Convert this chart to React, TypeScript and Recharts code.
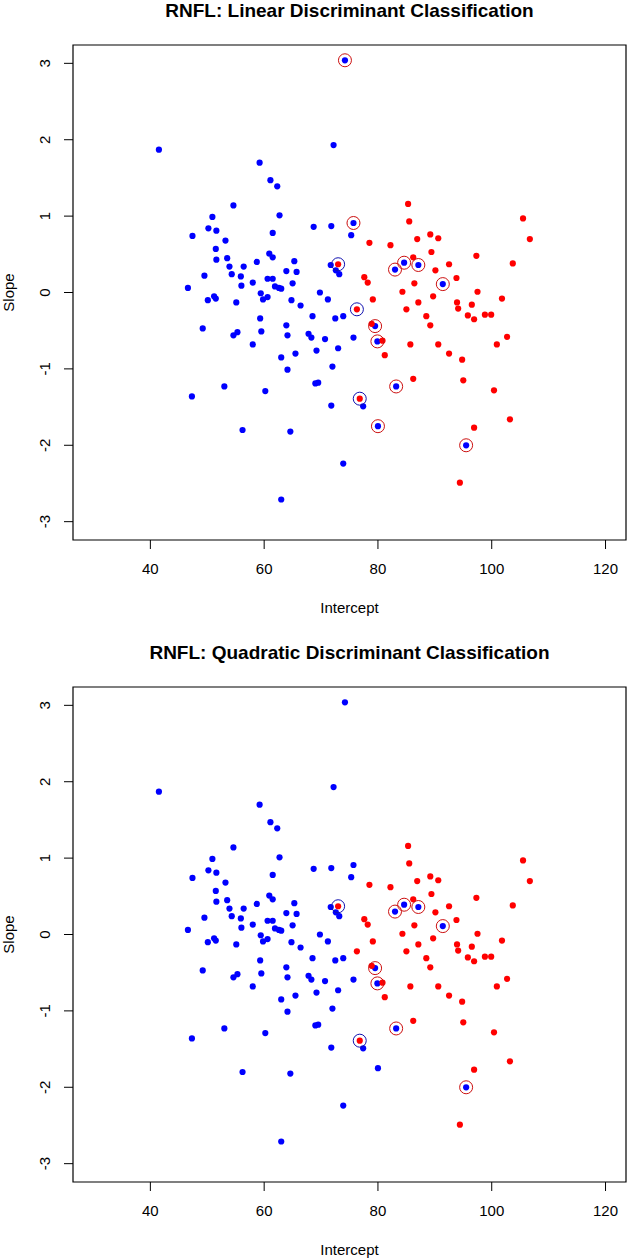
import React from "react";
import { ScatterChart, Scatter, XAxis, YAxis, ReferenceArea } from "recharts";

// true group: blue points
const BLUE_INTERCEPT = [
  41.5, 54.6, 50.9, 50.2, 51.6, 47.4, 53.2, 51.5, 51.6, 53.5, 53.9, 56.4, 54.3, 55.9, 49.5, 56.0,
  46.6, 50.1, 51.2, 51.5, 55.1, 49.2, 54.6, 55.3, 53.0, 47.3, 56.2, 72.2, 59.2, 61.1, 62.3, 62.7,
  68.7, 71.8, 75.7, 75.3, 61.5, 60.9, 61.5, 58.7, 65.3, 63.9, 65.7, 58.0, 60.6, 61.5, 61.9, 62.6,
  63.0, 65.0, 59.4, 59.8, 60.6, 64.8, 66.4, 69.8, 71.2, 68.5, 59.3, 72.5, 73.9, 71.7, 72.6, 73.2,
  59.5, 63.9, 64.1, 67.8, 68.3, 70.7, 75.7, 73.0, 69.2, 65.5, 63.0, 58.0, 64.1, 72.0, 69.0, 69.5,
  60.2, 77.4, 71.8, 80.0, 64.6, 73.9, 63.0, 74.2, 79.5, 79.9, 84.6, 87.1, 83.0, 91.4, 83.2, 95.5,
];
const BLUE_SLOPE = [
  1.87, 1.14, 0.99, 0.84, 0.81, 0.74, 0.68, 0.57, 0.43, 0.45, 0.34, 0.34, 0.24, 0.21, 0.22, 0.09,
  0.06, -0.1, -0.05, -0.08, -0.13, -0.47, -0.56, -0.52, -1.23, -1.36, -1.8, 1.93, 1.7, 1.47, 1.39, 1.01,
  0.86, 0.87, 0.91, 0.75, 0.78, 0.51, 0.46, 0.4, 0.41, 0.28, 0.27, 0.13, 0.18, 0.18, 0.08, 0.06,
  0.05, 0.12, -0.01, -0.09, -0.06, -0.1, -0.17, 0.0, -0.09, -0.31, -0.34, -0.34, -0.31, 0.36, 0.29, 0.24,
  -0.51, -0.43, -0.56, -0.54, -0.59, -0.61, -0.59, -0.73, -0.76, -0.8, -0.85, -0.68, -1.01, -0.97, -1.19, -1.18,
  -1.29, -1.49, -1.48, -1.75, -1.82, -2.24, -2.71, 3.04, -0.44, -0.64, 0.39, 0.36, 0.3, 0.11, -1.23, -2.0,
];

// true group: red points
const RED_INTERCEPT = [
  73.0, 76.3, 76.8, 78.5, 82.2, 79.1, 77.6, 78.2, 78.9, 80.8, 81.2, 85.3, 85.5, 105.5, 106.7, 89.2,
  90.6, 86.9, 89.4, 97.3, 86.2, 90.1, 92.5, 103.7, 93.8, 86.4, 84.3, 89.7, 97.5, 87.1, 85.0, 93.9,
  94.1, 96.5, 101.8, 88.5, 89.2, 95.8, 96.9, 98.8, 99.9, 85.7, 90.6, 102.7, 100.9, 92.5, 94.8, 86.2,
  95.0, 100.4, 103.2, 96.9, 94.4,
];
const RED_SLOPE = [
  0.37, -0.22, -1.39, 0.65, 0.62, -0.09, 0.2, 0.13, -0.41, -0.63, -0.82, 1.16, 0.93, 0.97, 0.7, 0.76,
  0.71, 0.7, 0.53, 0.48, 0.46, 0.29, 0.37, 0.38, 0.19, 0.12, 0.01, -0.05, 0.01, -0.13, -0.22, -0.13,
  -0.21, -0.16, -0.08, -0.31, -0.43, -0.3, -0.35, -0.29, -0.29, -0.68, -0.68, -0.58, -0.68, -0.8, -0.88, -1.13,
  -1.15, -1.28, -1.66, -1.77, -2.49,
];

// misclassified points (indices into the arrays above)
const LDA_MISSED_BLUE = [34, 83, 87, 88, 89, 90, 91, 92, 93, 94, 95];
const LDA_MISSED_RED = [0, 1, 2];
const QDA_MISSED_BLUE = [88, 89, 90, 91, 92, 93, 94, 95];
const QDA_MISSED_RED = [0, 2];

const X_TICKS = [40, 60, 80, 100, 120];
const Y_TICKS = [-3, -2, -1, 0, 1, 2, 3];
const X_DOMAIN = [26.4, 123.6];
const Y_DOMAIN = [-3.24, 3.24];

const W = 627;
const H = 642;
const FONT = "'Liberation Sans', Arial, sans-serif";

const blueData = BLUE_INTERCEPT.map((x, i) => ({ x, y: BLUE_SLOPE[i] }));
const redData = RED_INTERCEPT.map((x, i) => ({ x, y: RED_SLOPE[i] }));

const dot = (color: string) => (p: any) => <circle cx={p.cx} cy={p.cy} r={3.1} fill={color} />;
const ring = (color: string) => (p: any) => (
  <circle cx={p.cx} cy={p.cy} r={6.5} fill="none" stroke={color} strokeWidth={1} />
);

const XTick = ({ x, y, payload }: any) => (
  <text x={x} y={y + 23} textAnchor="middle" fontSize={15} fontFamily={FONT} fill="#000">
    {payload.value}
  </text>
);

const YTick = ({ x, y, payload }: any) => (
  <text
    x={x - 12}
    y={y}
    transform={`rotate(-90 ${x - 12} ${y})`}
    textAnchor="middle"
    fontSize={15}
    fontFamily={FONT}
    fill="#000"
  >
    {payload.value}
  </text>
);

function Panel({ title, missedBlue, missedRed }: { title: string; missedBlue: number[]; missedRed: number[] }) {
  const blueRings = missedBlue.map((i) => blueData[i]);
  const redRings = missedRed.map((i) => redData[i]);
  return (
    <div style={{ position: "relative", width: W, height: H }}>
      <ScatterChart width={W} height={H} margin={{ top: 45, right: 1, bottom: 0, left: 0 }}>
        <XAxis
          type="number"
          dataKey="x"
          domain={X_DOMAIN}
          ticks={X_TICKS}
          allowDataOverflow
          height={102}
          axisLine={false}
          tickLine={{ stroke: "#000" }}
          tickSize={9}
          tick={<XTick />}
        />
        <YAxis
          type="number"
          dataKey="y"
          domain={Y_DOMAIN}
          ticks={Y_TICKS}
          allowDataOverflow
          width={73}
          axisLine={false}
          tickLine={{ stroke: "#000" }}
          tickSize={9}
          tick={<YTick />}
        />
        <ReferenceArea
          x1={X_DOMAIN[0]}
          x2={X_DOMAIN[1]}
          y1={Y_DOMAIN[0]}
          y2={Y_DOMAIN[1]}
          fill="none"
          fillOpacity={0}
          stroke="#000"
          strokeWidth={1.2}
          strokeOpacity={1}
        />
        <Scatter data={blueData} shape={dot("#0000ff")} isAnimationActive={false} />
        <Scatter data={redData} shape={dot("#ff0000")} isAnimationActive={false} />
        <Scatter data={blueRings} shape={ring("#cc1010")} isAnimationActive={false} />
        <Scatter data={redRings} shape={ring("#1010b0")} isAnimationActive={false} />
      </ScatterChart>
      <svg
        width={W}
        height={H}
        style={{ position: "absolute", left: 0, top: 0, pointerEvents: "none" }}
        fontFamily={FONT}
      >
        <text x={349.5} y={17} textAnchor="middle" fontSize={19} fontWeight="bold" fill="#000">
          {title}
        </text>
        <text x={349.5} y={613} textAnchor="middle" fontSize={15} fill="#000">
          Intercept
        </text>
        <text x={14} y={292.5} transform="rotate(-90 14 292.5)" textAnchor="middle" fontSize={15} fill="#000">
          Slope
        </text>
      </svg>
    </div>
  );
}

export default function App() {
  return (
    <div
      style={{
        position: "absolute",
        left: 0,
        top: 0,
        width: W,
        height: 1260,
        overflow: "hidden",
        background: "#fff",
      }}
    >
      <Panel title="RNFL: Linear Discriminant Classification" missedBlue={LDA_MISSED_BLUE} missedRed={LDA_MISSED_RED} />
      <Panel
        title="RNFL: Quadratic Discriminant Classification"
        missedBlue={QDA_MISSED_BLUE}
        missedRed={QDA_MISSED_RED}
      />
    </div>
  );
}
